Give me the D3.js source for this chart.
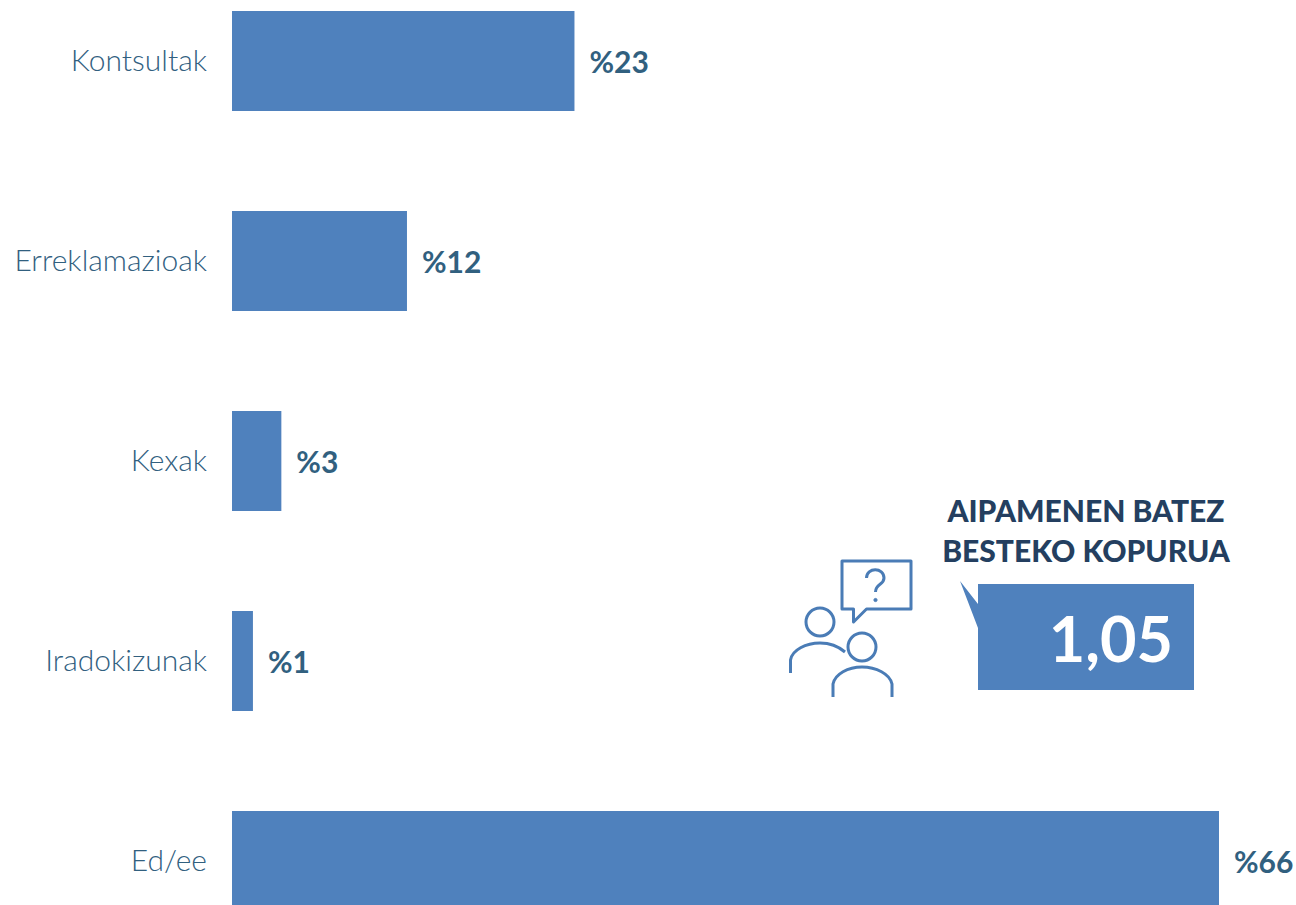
<!DOCTYPE html>
<html>
<head>
<meta charset="utf-8">
<script src="https://cdn.jsdelivr.net/npm/d3@7"></script>
<style>
  html, body { margin: 0; padding: 0; background: #fff; overflow: hidden; }
  text { font-family: Lato, "Open Sans", sans-serif; }
</style>
</head>
<body>
<div id="chart"></div>
<script>
const categories = ["Kontsultak", "Erreklamazioak", "Kexak", "Iradokizunak", "Ed/ee"];
// values, labels in the picture are rounded
const values = [22.9, 11.7, 3.3, 1.4, 66];
const calloutLines = ["AIPAMENEN BATEZ", "BESTEKO KOPURUA"];
const calloutValue = "1,05";

const width = 1296, height = 905;
const barColor = "#4f81bd", labelColor = "#31607f", titleColor = "#243f60";

const svg = d3.select("#chart").append("svg")
    .attr("width", width)
    .attr("height", height)
    .style("display", "block");

const x = d3.scaleLinear().domain([0, 66]).range([232, 1219]);
// 200px per band, the last bar runs off the bottom of the page
const y = d3.scaleBand().domain(categories).range([-39, 961]).paddingInner(0.5).paddingOuter(0.25);

svg.selectAll(".bar")
    .data(categories)
    .join("rect")
    .attr("class", "bar")
    .attr("x", x(0))
    .attr("y", d => y(d))
    .attr("width", (d, i) => x(values[i]) - x(0))
    .attr("height", y.bandwidth())
    .attr("fill", barColor);

const yAxisG = svg.append("g")
    .attr("transform", "translate(" + x(0) + ",0)")
    .call(d3.axisLeft(y).tickSize(0).tickPadding(25));
yAxisG.select(".domain").remove();
yAxisG.selectAll("text")
    .attr("font-size", 30)
    .attr("font-weight", 300)
    .attr("fill", labelColor)
    .style("font-family", "Lato, sans-serif");

svg.selectAll(".valueLabel")
    .data(categories)
    .join("text")
    .attr("class", "valueLabel")
    .attr("x", (d, i) => x(values[i]) + 15)
    .attr("y", d => y(d) + y.bandwidth() / 2 + 1)
    .attr("dy", "0.35em")
    .attr("font-size", 30)
    .attr("font-weight", 700)
    .attr("fill", labelColor)
    .text((d, i) => "%" + d3.format(".0f")(values[i]));

// callout box with its pointer
const callout = svg.append("g").attr("class", "callout");
callout.append("path")
    .attr("d", "M978,584H1194V690H978V628L960,581L978,604Z")
    .attr("fill", barColor);
callout.append("text")
    .attr("x", 1173)
    .attr("y", 662)
    .attr("text-anchor", "end")
    .attr("font-size", 63)
    .attr("font-weight", 700)
    .attr("fill", "#fff")
    .text(calloutValue);
callout.selectAll(".calloutTitle")
    .data(calloutLines)
    .join("text")
    .attr("class", "calloutTitle")
    .attr("x", 1086)
    .attr("y", (d, i) => 522 + i * 40)
    .attr("text-anchor", "middle")
    .attr("font-size", 30)
    .attr("font-weight", 900)
    .attr("fill", titleColor)
    .text(d => d);

// people with a question icon
const icon = svg.append("g")
    .attr("fill", "none")
    .attr("stroke", "#4a7cb6")
    .attr("stroke-width", 3);
icon.append("path")
    .attr("d", "M842,561H911V609H866.5L853.5,622V609H842Z")
    .attr("stroke-linejoin", "round");
icon.append("path")
    .attr("d", "M866.5,578C866.5,567 884,567 884,578C884,585 875.5,583.5 875.5,592");
icon.append("circle").attr("cx", 875.5).attr("cy", 600).attr("r", 1.6).attr("fill", "#4a7cb6").attr("stroke-width", 1);
icon.append("circle").attr("cx", 820).attr("cy", 622).attr("r", 14);
icon.append("circle").attr("cx", 862).attr("cy", 647).attr("r", 14);
icon.append("path").attr("d", "M790.5,673V660C792,650 806,643 820,643C830,643 838,646 845,652");
icon.append("path").attr("d", "M833,697V684C835,674 848,667 862,667C876,667 890,674 892,684V697");
</script>
</body>
</html>
